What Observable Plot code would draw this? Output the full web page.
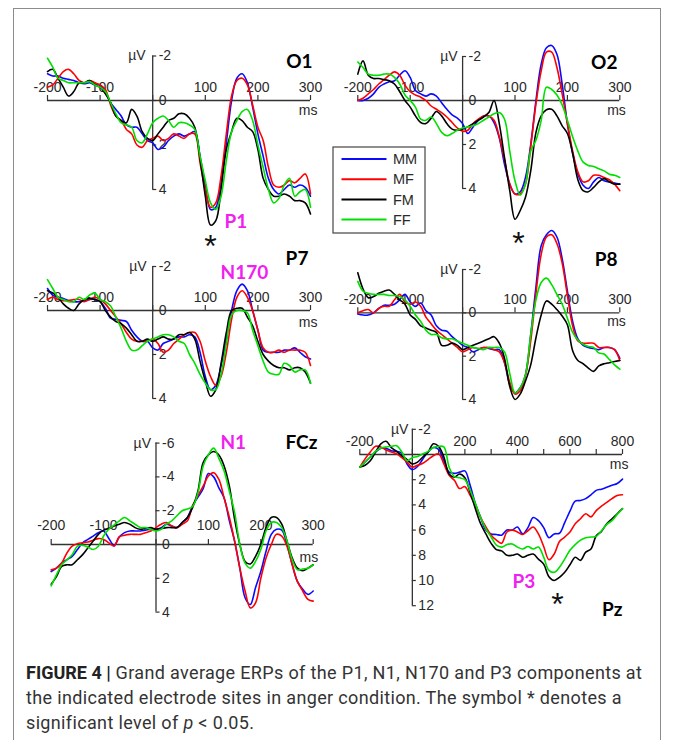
<!DOCTYPE html>
<html>
<head>
<meta charset="utf-8">
<script src="https://cdn.jsdelivr.net/npm/d3@7"></script>
<script src="https://cdn.jsdelivr.net/npm/@observablehq/plot@0.6"></script>
<style>
  body { margin: 0; background: #fff; }
  #fig { position: relative; width: 673px; height: 740px; overflow: hidden; background: #fff; }
  #frame { position: absolute; left: 13px; top: 8px; width: 648px; height: 800px; border: 1.5px solid #8c8c8c; box-sizing: border-box; }
  .cl { position: absolute; left: 26px; white-space: nowrap; font-family: Roboto, "Liberation Sans", sans-serif; font-size: 18px; line-height: 25px; color: #333; letter-spacing: 0.35px; }
  .cl b { color: #222; letter-spacing: 0; }
</style>
</head>
<body>
<div id="fig">
  <div id="frame"></div>
  <div class="cl" style="top:660px"><b>FIGURE 4 |</b> Grand average ERPs of the P1, N1, N170 and P3 components at</div>
  <div class="cl" style="top:685px">the indicated electrode sites in anger condition. The symbol * denotes a</div>
  <div class="cl" style="top:710px">significant level of <i>p</i> &lt; 0.05.</div>
</div>
<script>
// ---------------- data ----------------
const conditions = ["MM", "MF", "FM", "FF"];
const colors = ["#0a0aff", "#ff0000", "#000000", "#00e000"];

const msShort = [-200,-190,-180,-170,-160,-150,-140,-130,-120,-110,
  -100,-90,-80,-70,-60,-50,-40,-30,-20,-10,
  0,10,20,30,40,50,60,70,80,90,
  100,110,120,130,140,150,160,170,180,190,
  200,210,220,230,240,250,260,270,280,290,300];
const msLong = [-200,-180,-160,-140,-120,-100,-80,-60,-40,-20,
  0,20,40,60,80,100,120,140,160,180,
  200,220,240,260,280,300,320,340,360,380,
  400,420,440,460,480,500,520,540,560,580,
  600,620,640,660,680,700,720,740,760,780,800];

// O1 (µV, negative up)
const O1_MM = [-1.2,-1.1,-1.1,-1.0,-0.95,-0.9,-0.8,-0.75,-0.8,-0.7,
  -0.7,-0.4,0.1,0.4,0.7,1.1,1.2,1.2,1.5,1.8,
  1.9,2.2,2.1,1.8,1.6,1.5,1.6,1.5,1.4,2.5,
  3.8,4.9,4.8,3.6,1.9,0.0,-1.0,-1.2,-0.8,0.3,
  1.5,2.5,3.5,4.0,4.2,4.0,3.8,3.9,3.8,3.9,4.3];
const O1_MF = [-0.6,-0.7,-1.0,-1.3,-1.4,-1.2,-0.9,-0.8,-0.9,-0.8,
  -0.7,-0.5,0.2,0.7,0.9,1.3,1.5,2.0,2.1,1.8,
  1.7,1.6,1.8,1.7,1.5,1.6,1.7,1.5,1.5,2.8,
  4.0,4.8,4.6,3.4,1.5,-0.2,-0.9,-1.0,-0.7,0.2,
  1.2,1.8,3.0,3.8,3.9,3.8,3.6,3.7,3.5,3.3,4.2];
const O1_FM = [-1.3,-1.4,-1.0,-0.6,-0.2,-0.4,-0.8,-0.8,-0.9,-0.7,
  -0.6,-0.3,0.1,0.7,0.9,1.0,0.4,0.7,1.4,1.7,
  1.8,1.5,1.2,0.9,0.8,0.6,0.6,0.8,1.2,2.6,
  4.3,5.6,5.4,4.0,2.2,1.4,0.8,0.9,1.2,1.4,
  2.2,3.5,4.0,4.3,4.3,4.2,4.3,4.5,4.5,4.6,5.1];
const O1_FF = [-1.9,-1.5,-1.0,-0.9,-0.8,-0.8,-0.8,-0.8,-0.85,-0.7,
  -0.6,-0.4,0.1,0.6,1.0,1.1,1.2,1.8,1.9,1.5,
  1.0,0.8,0.7,0.9,1.2,1.0,1.0,1.1,1.3,2.5,
  3.6,4.6,4.9,4.3,2.7,1.4,0.9,0.5,0.4,0.9,
  2.0,3.0,4.0,4.6,4.4,3.8,3.5,4.3,4.1,4.0,4.8];

// O2
const O2_MM = [0.0,0.0,-0.1,-0.3,-0.6,-0.75,-0.85,-0.9,-1.15,-1.35,
  -1.05,-0.45,-0.3,-0.2,-0.3,-0.2,0.1,0.4,0.65,0.8,
  1.05,1.5,1.2,0.9,0.7,0.7,1.0,1.7,2.9,3.8,
  4.25,4.15,3.5,2.0,0.0,-1.65,-2.4,-2.5,-2.1,-0.75,
  1.05,2.4,3.35,3.85,4.0,3.7,3.5,3.65,3.7,3.75,3.8];
const O2_MF = [0.0,-0.1,-0.3,-0.5,-0.75,-0.95,-1.15,-1.3,-1.15,-0.7,
  -0.4,-0.25,-0.15,0.0,0.25,0.4,0.55,0.75,1.0,1.25,
  1.4,1.35,1.05,0.85,0.7,0.7,0.9,1.65,2.7,3.8,
  4.25,4.25,3.8,2.1,0.15,-1.35,-2.2,-2.2,-1.5,-0.3,
  1.05,2.3,3.25,3.7,3.65,3.4,3.4,3.5,3.6,3.8,4.1];
const O2_FM = [-1.2,-1.8,-1.15,-1.0,-1.0,-0.95,-0.9,-0.75,-0.4,0.0,
  0.3,0.7,1.0,1.05,0.8,0.5,0.7,1.05,1.3,1.35,
  1.3,1.2,1.05,0.9,0.75,0.55,0.0,1.05,2.6,4.1,
  5.4,5.0,4.4,3.2,1.45,0.7,0.42,0.4,0.7,1.15,
  1.5,2.4,3.6,4.1,4.15,3.95,3.7,3.55,3.7,3.8,3.8];
const O2_FF = [-1.75,-1.5,-1.2,-1.15,-1.15,-1.2,-1.2,-1.05,-0.75,-0.25,
  0.0,0.3,0.85,0.9,0.75,1.05,1.45,1.6,1.5,1.35,
  1.25,1.2,1.15,1.05,0.9,0.75,0.6,0.55,0.85,2.3,
  3.65,4.3,3.8,2.3,1.8,0.9,-0.6,-0.5,-0.25,0.2,
  0.9,1.65,2.3,2.8,2.95,3.0,3.1,3.2,3.35,3.4,3.5];

// P7
const P7_MM = [-1.0,-0.7,-0.6,-0.55,-0.45,-0.4,-0.4,-0.45,-0.5,-0.5,
  -0.4,-0.1,0.35,0.4,0.45,0.5,0.9,1.2,1.4,1.4,
  1.7,1.8,1.5,1.4,1.3,1.2,1.2,1.1,1.2,1.9,
  3.0,3.6,3.4,2.5,1.3,0.0,-0.9,-1.2,-0.9,0.0,
  0.9,1.8,1.9,1.9,1.9,1.8,1.8,1.7,1.9,2.1,2.2];
const P7_MF = [-0.5,-0.6,-0.5,-0.45,-0.45,-0.5,-0.5,-0.4,-0.5,-0.6,
  -0.5,-0.3,0.0,0.3,0.6,1.0,1.3,1.4,1.4,1.4,
  1.3,1.5,1.9,1.8,1.5,1.3,1.1,1.0,1.0,1.4,
  2.3,3.0,3.4,3.0,1.9,0.4,-0.6,-0.9,-0.6,0.0,
  0.9,1.7,1.9,1.9,1.8,1.9,1.8,1.8,1.8,1.9,2.5];
const P7_FM = [-0.9,-0.8,-0.6,-0.3,-0.1,0.0,-0.3,-0.5,-0.55,-0.5,
  -0.4,0.0,0.3,0.5,0.6,0.8,1.1,1.4,1.4,1.3,
  1.4,1.3,1.2,1.3,1.3,1.1,1.1,1.0,1.3,2.3,
  3.2,3.9,3.6,2.4,1.0,0.0,-0.1,-0.1,0.3,0.7,
  1.4,2.0,2.3,2.5,2.6,2.6,2.7,2.6,2.6,2.8,3.3];
const P7_FF = [-1.4,-1.0,-0.6,-0.5,-0.4,-0.4,-0.6,-0.5,-0.7,-0.8,
  -0.5,-0.4,-0.2,0.3,0.8,1.4,1.8,1.8,1.6,1.4,
  1.3,1.2,1.1,1.1,1.2,1.4,1.5,2.0,2.4,2.9,
  3.3,3.6,3.6,2.9,1.5,0.2,0.0,0.0,0.1,0.9,
  1.6,2.3,2.8,2.9,2.9,2.4,2.5,2.8,2.7,2.7,3.3];

// P8
const P8_MM = [0.05,0.1,0.1,0.0,-0.2,-0.35,-0.35,-0.4,-0.6,-0.85,
  -0.5,-0.3,-0.45,-0.1,0.1,0.6,0.8,0.85,1.1,1.3,
  1.5,1.6,1.8,1.7,1.6,1.65,1.7,1.7,2.3,3.3,
  3.7,3.45,2.85,1.0,-1.2,-3.1,-3.6,-3.8,-3.5,-2.5,
  -1.0,0.4,1.2,1.5,1.6,1.65,1.7,1.6,1.6,1.7,2.1];
const P8_MF = [0.0,-0.1,-0.15,0.0,-0.2,-0.3,-0.3,-0.6,-0.85,-0.5,
  -0.4,-0.5,-0.3,0.2,0.5,0.8,1.0,1.2,1.4,1.6,
  1.8,1.7,1.6,1.65,1.6,1.6,1.7,1.8,2.3,3.2,
  3.75,3.6,2.9,1.3,-0.9,-2.7,-3.5,-3.6,-3.2,-2.3,
  -0.8,0.6,1.3,1.4,1.4,1.4,1.6,1.6,1.6,1.7,2.2];
const P8_FM = [-1.85,-1.1,-0.7,-0.75,-0.9,-1.0,-1.05,-0.85,-0.6,-0.4,
  0.1,0.3,0.6,0.7,0.8,0.9,1.5,1.5,1.4,1.5,
  1.7,1.6,1.5,1.4,1.3,1.2,1.1,1.4,2.1,3.4,
  4.0,3.75,3.15,2.4,1.15,0.1,-0.55,-0.4,-0.15,0.15,
  0.55,1.75,2.2,2.35,2.55,2.7,2.45,2.35,2.3,2.25,2.2];
const P8_FF = [-1.45,-1.0,-0.9,-0.85,-0.85,-0.85,-0.8,-0.8,-0.75,-0.6,
  -0.3,0.1,0.4,0.8,1.0,1.0,1.15,1.2,1.2,1.3,
  1.4,1.5,1.6,1.65,1.7,1.6,1.6,1.6,1.8,2.8,
  3.7,3.45,2.85,1.0,-0.6,-1.4,-1.6,-1.3,-0.85,-0.4,
  0.25,0.9,1.25,1.45,1.55,1.6,1.85,1.9,2.15,2.4,2.6];

// FCz
const FCz_MM = [1.6,1.4,1.1,0.9,0.7,0.3,-0.1,-0.3,-0.5,-0.7,
  -0.8,-0.35,0.05,-0.45,-0.7,-0.8,-0.8,-0.8,-0.85,-0.9,
  -0.9,-1.0,-1.2,-1.1,-1.0,-1.3,-1.6,-2.3,-2.8,-3.3,
  -4.2,-4.0,-3.35,-2.75,-1.4,-0.2,1.4,3.15,3.55,2.55,
  1.6,0.4,-0.6,-0.9,-0.85,0.0,1.2,2.2,2.65,2.95,2.75];
const FCz_MF = [1.5,1.4,1.1,0.5,0.1,-0.05,-0.1,-0.15,-0.25,-0.35,
  -0.3,-0.1,0.1,-0.45,-0.55,-0.6,-0.6,-0.6,-0.7,-0.8,
  -1.0,-1.2,-1.3,-1.1,-1.0,-1.2,-1.4,-2.3,-2.9,-3.45,
  -4.05,-4.25,-3.85,-2.75,-1.6,-0.2,1.4,2.75,3.75,3.45,
  2.0,0.8,0.0,-0.6,-0.5,0.1,1.2,2.2,2.75,3.25,3.35];
const FCz_FM = [2.35,1.9,1.3,1.2,1.2,0.9,0.6,0.2,-0.2,-0.6,
  -0.85,-0.95,-1.1,-1.2,-1.3,-1.2,-1.0,-0.9,-0.95,-1.0,
  -0.9,-0.95,-1.0,-1.0,-1.0,-1.3,-1.6,-2.2,-3.15,-4.85,
  -5.3,-5.5,-5.3,-4.65,-3.45,-1.5,0.0,1.0,1.15,0.7,
  0.0,-1.0,-1.6,-1.6,-1.2,-0.2,0.8,1.4,1.55,1.4,1.2];
const FCz_FF = [2.45,1.8,1.2,0.9,0.6,0.1,0.05,0.15,0.3,0.1,
  -0.5,-0.9,-1.15,-1.4,-1.6,-1.4,-1.2,-1.0,-1.0,-0.9,
  -0.8,-0.9,-1.2,-1.4,-1.7,-2.0,-2.1,-2.25,-3.05,-4.65,
  -5.3,-5.7,-5.1,-4.35,-3.15,-1.9,0.0,1.1,1.4,1.0,
  0.3,-0.8,-1.3,-1.3,-1.0,-0.2,0.9,1.5,1.45,1.4,1.2];

// Pz (20 ms steps)
const Pz_MM = [1.0,0.6,0.2,-0.2,-0.5,-0.5,-0.3,-0.25,-0.1,0.75,
  1.2,0.95,0.35,-0.2,-0.55,-0.4,0.5,1.4,1.5,1.4,
  1.3,2.45,3.9,5.0,6.0,6.3,6.35,6.4,6.0,6.0,
  5.75,6.3,5.8,5.0,5.25,5.8,6.6,6.3,6.25,5.4,
  4.5,3.7,3.65,3.5,3.2,2.85,2.75,2.6,2.45,2.3,1.95];
const Pz_MF = [1.0,0.35,-0.2,-0.65,-0.6,-0.35,-0.2,-0.05,0.25,0.6,
  1.0,0.85,0.7,0.4,0.1,-0.05,0.75,1.65,2.05,2.7,
  2.55,3.25,4.05,5.0,5.75,6.4,6.8,7.05,6.15,6.0,
  6.15,6.35,6.05,5.75,6.3,7.3,8.35,7.9,6.9,6.55,
  6.15,5.5,5.1,4.7,4.95,4.45,4.1,3.8,3.5,3.25,3.2];
const Pz_FM = [1.0,0.85,0.5,-0.2,-0.85,-1.05,-0.55,-0.25,0.1,0.4,
  0.75,0.6,0.2,-0.2,-0.85,-0.65,0.2,1.55,1.8,1.55,
  1.85,3.0,4.3,5.5,6.3,7.05,7.55,7.65,8.0,8.0,
  7.9,8.15,8.0,7.9,8.3,8.7,9.7,10.0,9.75,9.35,
  8.75,8.15,8.4,7.75,7.5,6.45,6.1,5.5,5.1,4.7,4.3];
const Pz_FF = [1.0,0.6,0.2,-0.25,-0.5,-0.6,-0.65,-0.7,-0.2,0.5,
  0.25,0.15,-0.05,-0.25,-0.55,-0.65,-0.6,1.0,1.75,1.85,
  2.0,2.85,3.9,5.0,5.9,6.55,7.2,7.35,7.15,7.1,
  7.35,7.5,7.3,7.5,7.35,8.15,9.2,9.35,8.95,8.3,
  7.6,7.15,6.8,6.6,6.55,6.5,6.05,5.55,5.25,4.75,4.3];

// tick values / labels
const shortXTicks = [-200,-100,0,100,200,300];
const shortXLabels = [-200,-100,100,200,300];
const longXTicks = [-200,-100,0,100,200,300,400,500,600,700,800];
const longXLabels = [-200,200,400,600,800];
const occYTicks = [-2,0,2,4];
const fczYTicks = [-6,-4,-2,0,2,4];
const pzYTicks = [-2,0,2,4,6,8,10,12];
const pzYLabels = [-2,2,4,6,8,10,12];

// ---------------- layout (page pixels) ----------------
const panels = [
  {name:"O1", t:msShort, s:[O1_MM,O1_MF,O1_FM,O1_FF], xd:[-200,300], yd:[-2,4], xr:[47,310], yr:[55.5,189], box:[20,30,310,215],
   xt:shortXTicks, xl:shortXLabels, yt:occYTicks, yl:occYTicks, xlDy:-13, uvDx:-7, msDx:7, msDy:10,
   title:{x:304, y:-1.44}, comp:{text:"P1", x:136.5, y:5.71}, star:{x:110, y:6.2}},
  {name:"O2", t:msShort, s:[O2_MM,O2_MF,O2_FM,O2_FF], xd:[-200,300], yd:[-2,4], xr:[357.3,619.3], yr:[56,188], box:[330,30,320,215],
   xt:shortXTicks, xl:shortXLabels, yt:occYTicks, yl:occYTicks, xlDy:-13, uvDx:-5, msDx:6, msDy:10,
   title:{x:295.6, y:-1.45}, star:{x:106.7, y:6.14}},
  {name:"P7", t:msShort, s:[P7_MM,P7_MF,P7_FM,P7_FF], xd:[-200,300], yd:[-2,4], xr:[47,310], yr:[266,398], box:[20,245,310,175],
   xt:shortXTicks, xl:shortXLabels, yt:occYTicks, yl:occYTicks, xlDy:-13, uvDx:-6, msDx:7, msDy:12,
   title:{x:296, y:-2.05}, comp:{text:"N170", x:129, y:-1.45}},
  {name:"P8", t:msShort, s:[P8_MM,P8_MF,P8_FM,P8_FF], xd:[-200,300], yd:[-2,4], xr:[357.3,619.3], yr:[269,399], box:[330,220,320,200],
   xt:shortXTicks, xl:shortXLabels, yt:occYTicks, yl:occYTicks, xlDy:-13, uvDx:-5, msDx:6, msDy:9,
   title:{x:295.6, y:-2.18}},
  {name:"FCz", t:msShort, s:[FCz_MM,FCz_MF,FCz_FM,FCz_FF], xd:[-200,300], yd:[-6,4], xr:[50.7,312.7], yr:[442.6,611.6], box:[20,420,310,210],
   xt:shortXTicks, xl:shortXLabels, yt:fczYTicks, yl:fczYTicks, xlDy:-19, uvDx:-5, msDx:5, msDy:13,
   title:{x:308, y:-5.68}, comp:{text:"N1", x:123, y:-5.68}},
  {name:"Pz", t:msLong, s:[Pz_MM,Pz_MF,Pz_FM,Pz_FF], xd:[-200,800], yd:[-2,12], xr:[359.3,622], yr:[428.8,605.2], box:[330,410,320,220],
   xt:longXTicks, xl:longXLabels, yt:pzYTicks, yl:pzYLabels, xlDy:-13, uvDx:-4, msDx:6, msDy:10,
   title:{x:800, y:12.78}, comp:{text:"P3", x:381, y:10.63}, star:{x:552, y:11.27}}
];

const axisColor = "#333";
const labelColor = "#2a2a2a";
const tickFont = "Liberation Sans, Arial, sans-serif";
const titleFont = "Lato, Open Sans, sans-serif";
const starSize = 32;

const fig = document.getElementById("fig");

for (const p of panels) {
  const rows = [];
  conditions.forEach((c, i) => p.s[i].forEach((v, j) => rows.push({t: p.t[j], v, c})));
  const [L, T, W, H] = p.box;
  const pxPerX = (p.xr[1] - p.xr[0]) / (p.xd[1] - p.xd[0]);
  const pxPerY = (p.yr[1] - p.yr[0]) / (p.yd[1] - p.yd[0]);
  const xTick = 5 / pxPerY;   // tick length in data units (upwards = negative)
  const yTick = 4 / pxPerX;

  const marks = [
    Plot.ruleY([0], {x1: p.xd[0], x2: p.xd[1], stroke: axisColor, strokeWidth: 1.3}),
    Plot.ruleX([0], {y1: p.yd[0], y2: p.yd[1], stroke: axisColor, strokeWidth: 1.3}),
    Plot.ruleX(p.xt, {x: d => d, y1: 0, y2: -xTick, stroke: axisColor, strokeWidth: 1.2}),
    Plot.ruleY(p.yt, {y: d => d, x1: 0, x2: yTick, stroke: axisColor, strokeWidth: 1.2}),
    Plot.text(p.xl, {x: d => d, y: 0, dy: p.xlDy, text: d => String(d), fill: labelColor, fontSize: 14}),
    Plot.text(p.yl, {x: 0, y: d => d, dx: 6, text: d => String(d), textAnchor: "start", fill: labelColor, fontSize: 14}),
    Plot.text(["µV"], {x: 0, y: p.yd[0], dx: p.uvDx, text: d => d, textAnchor: "end", fill: labelColor, fontSize: 14}),
    Plot.text(["ms"], {x: p.xd[1], y: 0, dx: p.msDx, dy: p.msDy, text: d => d, textAnchor: "end", fill: labelColor, fontSize: 14}),
    Plot.line(rows, {x: "t", y: "v", z: "c", stroke: "c", strokeWidth: 1.6, curve: "catmull-rom"}),
    Plot.text([p.name], {x: p.title.x, y: p.title.y, text: d => d, textAnchor: "end", lineAnchor: "bottom",
      fontFamily: titleFont, fontWeight: "bold", fontSize: 19, fill: "#000"})
  ];
  if (p.comp) marks.push(Plot.text([p.comp.text], {x: p.comp.x, y: p.comp.y, text: d => d, textAnchor: "start", lineAnchor: "bottom",
      fontFamily: titleFont, fontWeight: "bold", fontSize: 19, fill: "#f020f0"}));
  if (p.star) marks.push(Plot.text(["*"], {x: p.star.x, y: p.star.y, dy: 0.58 * starSize, text: d => d, lineAnchor: "bottom",
      fontFamily: tickFont, fontSize: starSize, fill: "#111"}));

  const chart = Plot.plot({
    width: W, height: H,
    marginLeft: p.xr[0] - L, marginRight: L + W - p.xr[1],
    marginTop: p.yr[0] - T, marginBottom: T + H - p.yr[1],
    x: {domain: p.xd, axis: null},
    y: {domain: p.yd, reverse: true, axis: null},
    color: {domain: conditions, range: colors},
    style: {fontFamily: tickFont, fontSize: "14px", background: "none", overflow: "visible"},
    marks
  });
  chart.style.position = "absolute";
  chart.style.left = L + "px";
  chart.style.top = T + "px";
  chart.style.maxWidth = "none";
  fig.appendChild(chart);
}

// legend (inside O2 panel area)
const leg = d3.select(fig).append("svg")
  .attr("width", 95).attr("height", 89)
  .style("position", "absolute").style("left", "332px").style("top", "146px");
leg.append("rect").attr("x", 1).attr("y", 1).attr("width", 92).attr("height", 86)
  .attr("fill", "#fff").attr("stroke", "#444").attr("stroke-width", 1.2);
conditions.forEach((c, i) => {
  const y = 13 + i * 20.2;
  leg.append("line").attr("x1", 9.5).attr("x2", 54.5).attr("y1", y).attr("y2", y)
    .attr("stroke", colors[i]).attr("stroke-width", 2);
  leg.append("text").attr("x", 61).attr("y", y).attr("dy", "0.36em")
    .attr("font-family", tickFont).attr("font-size", 14.5).attr("fill", labelColor).text(c);
});
</script>
</body>
</html>
